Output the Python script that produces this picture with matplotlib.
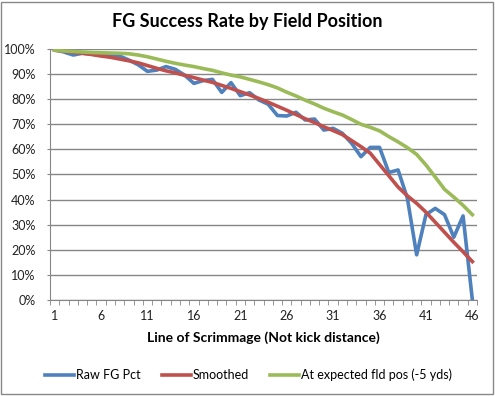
import numpy as np
from matplotlib import pyplot as plt
from matplotlib.ticker import PercentFormatter, MultipleLocator
from matplotlib.patches import Rectangle

plt.rcParams['font.family'] = ['Lato', 'DejaVu Sans']

# line of scrimmage categories 1..46
yards = list(range(1, 47))

raw_pct = [99.7, 98.8, 97.6, 98.3, 98.0, 97.5, 97.2, 97.2, 95.6, 93.7,
           91.1, 91.6, 93.0, 91.9, 89.6, 86.3, 87.4, 87.9, 82.7, 86.6,
           81.4, 82.6, 79.7, 78.0, 73.5, 73.3, 74.8, 71.7, 72.1, 67.7,
           68.4, 66.4, 62.4, 57.1, 60.8, 60.8, 50.8, 51.8, 40.5, 18.0,
           34.0, 36.5, 34.0, 25.0, 33.5, 0.0]

smoothed = [99.5, 99.1, 98.7, 98.3, 97.8, 97.2, 96.7, 96.0, 95.3, 94.5,
            93.4, 92.3, 91.3, 90.5, 89.5, 88.6, 87.6, 86.7, 85.5, 84.3,
            83.0, 81.7, 80.3, 78.8, 77.2, 75.6, 73.9, 72.2, 70.7, 69.0,
            67.5, 65.9, 63.5, 61.1, 58.5, 54.0, 49.5, 45.0, 41.5, 38.5,
            35.0, 31.0, 27.0, 23.0, 19.2, 15.3]

expected = [99.5, 99.2, 99.0, 98.8, 98.6, 98.5, 98.4, 98.3, 98.1, 97.6,
            96.9, 96.0, 95.1, 94.3, 93.6, 93.0, 92.2, 91.5, 90.5, 89.6,
            88.9, 87.9, 86.9, 85.8, 84.5, 82.8, 81.3, 79.6, 78.1, 76.4,
            75.0, 73.7, 71.9, 70.0, 68.8, 67.4, 65.1, 63.0, 60.7, 58.0,
            53.8, 49.0, 44.1, 41.0, 37.7, 34.0]

labels = ['Raw FG Pct', 'Smoothed', 'At expected fld pos (-5 yds)']
colors = ['#4F81BD', '#C0504D', '#9BBB59']

fig = plt.figure(figsize=(4.95, 3.96), dpi=100)
ax = fig.add_axes([50/495, 1-300/396, 427/495, 251/396])

for vals, lab, c in zip([raw_pct, smoothed, expected], labels, colors):
    ax.plot(yards, np.array(vals)/100, color=c, lw=2.6, label=lab,
            solid_joinstyle='round')

ax.set_xlim(0.5, 46.5)
ax.set_ylim(0, 1)
ax.set_xticks(yards[::5])
ax.xaxis.set_minor_locator(MultipleLocator(1, offset=0.5))
ax.yaxis.set_major_locator(MultipleLocator(0.1))
ax.yaxis.set_major_formatter(PercentFormatter(1.0, decimals=0))

ax.grid(axis='y', color='#868686', lw=1)
ax.set_axisbelow(True)
for s in ['top', 'right']:
    ax.spines[s].set_visible(False)
for s in ['left', 'bottom']:
    ax.spines[s].set_color('#868686')
ax.tick_params(axis='x', which='major', length=0, pad=7, labelsize=9, labelcolor='#222222')
ax.tick_params(axis='x', which='minor', length=3.5, color='#868686')
ax.tick_params(axis='y', length=2.5, color='#868686', pad=8, labelsize=9, labelcolor='#222222')

fig.text(0.5, 1-22/396, 'FG Success Rate by Field Position', ha='center', va='center',
         fontsize=13, fontweight='bold')
fig.text(0.533, 1-338/396, 'Line of Scrimmage (Not kick distance)', ha='center', va='center',
         fontsize=10, fontweight='bold')

fig.legend(loc='center', bbox_to_anchor=(0.502, 1-375/396), ncol=3, frameon=False,
           fontsize=9, handlelength=2.3, handletextpad=0.15, columnspacing=1.7)

fig.patches.append(Rectangle((0.002, 0.006), 0.994, 0.99, transform=fig.transFigure,
                             fill=False, edgecolor='#888888', lw=1))

fig.savefig('out.png', dpi=100)
